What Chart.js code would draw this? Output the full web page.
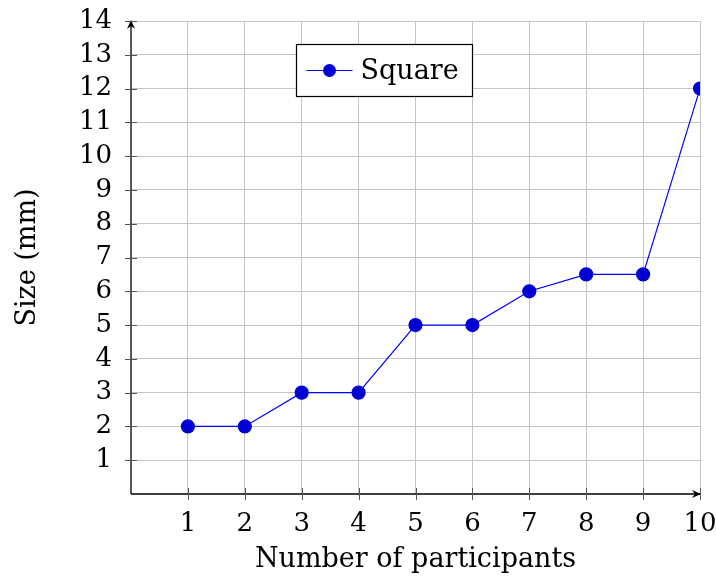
<!DOCTYPE html>
<html lang="en">
<head>
    <meta charset="UTF-8">
    <title>Size vs participants</title>
    <script src="https://cdn.jsdelivr.net/npm/chart.js"></script>
    <style>
        html, body { margin: 0; padding: 0; background: #fff; }
        #wrap { width: 716px; height: 578px; }
    </style>
</head>
<body>
    <div id="wrap"><canvas id="sizeChart" width="716" height="578"></canvas></div>

    <script>
        const participants = [1, 2, 3, 4, 5, 6, 7, 8, 9, 10];
        const sizes = [2, 2, 3, 3, 5, 5, 6, 6.5, 6.5, 12];
        const seriesLabel = 'Square';
        const xTitle = 'Number of participants';
        const yTitle = 'Size (mm)';

        const serif = '"DejaVu Serif", "Liberation Serif", serif';
        const tickSize = 26;
        const textSize = 27;

        // axis lines with arrow heads and little tick marks, like pgfplots
        const axesPlugin = {
            id: 'axes',
            afterDatasetsDraw(chart) {
                const c = chart.ctx, a = chart.chartArea;
                const xs = chart.scales.x, ys = chart.scales.y;
                c.save();
                c.strokeStyle = '#000';
                c.fillStyle = '#000';
                c.lineWidth = 1.3;
                c.beginPath();
                c.moveTo(a.left, a.bottom); c.lineTo(a.right, a.bottom);
                c.moveTo(a.left, a.bottom); c.lineTo(a.left, a.top);
                c.stroke();
                // arrows
                c.beginPath();
                c.moveTo(a.right + 1, a.bottom);
                c.lineTo(a.right - 8, a.bottom - 4);
                c.lineTo(a.right - 5, a.bottom);
                c.lineTo(a.right - 8, a.bottom + 4);
                c.closePath(); c.fill();
                c.beginPath();
                c.moveTo(a.left, a.top - 1);
                c.lineTo(a.left - 4, a.top + 8);
                c.lineTo(a.left, a.top + 5);
                c.lineTo(a.left + 4, a.top + 8);
                c.closePath(); c.fill();
                // ticks
                c.strokeStyle = '#555';
                c.lineWidth = 1;
                c.beginPath();
                xs.ticks.forEach(t => {
                    if (t.value === 0) return;
                    const px = Math.round(xs.getPixelForValue(t.value)) + 0.5;
                    c.moveTo(px, a.bottom - 6); c.lineTo(px, a.bottom + 6);
                });
                ys.ticks.forEach(t => {
                    if (t.value === 0) return;
                    const py = Math.round(ys.getPixelForValue(t.value)) + 0.5;
                    c.moveTo(a.left - 6, py); c.lineTo(a.left + 6, py);
                });
                c.stroke();
                c.restore();
            },
            afterDraw(chart) {
                // legend box
                const c = chart.ctx;
                const ds = chart.data.datasets[0];
                const bx = 296.5, by = 44.5, bw = 176, bh = 52;
                c.save();
                c.fillStyle = '#fff';
                c.strokeStyle = '#000';
                c.lineWidth = 1.2;
                c.fillRect(bx, by, bw, bh);
                c.strokeRect(bx, by, bw, bh);
                const my = by + bh / 2;
                c.strokeStyle = ds.borderColor;
                c.lineWidth = 1;
                c.beginPath(); c.moveTo(bx + 10, my); c.lineTo(bx + 56, my); c.stroke();
                c.fillStyle = ds.pointBackgroundColor;
                c.beginPath(); c.arc(bx + 33, my, 6.5, 0, Math.PI * 2); c.fill();
                c.fillStyle = '#000';
                c.font = textSize + 'px ' + serif;
                c.textBaseline = 'middle';
                c.fillText(ds.label, bx + 64, my + 1);
                c.restore();
            }
        };

        new Chart(document.getElementById('sizeChart'), {
            type: 'line',
            data: {
                datasets: [{
                    label: seriesLabel,
                    data: participants.map((p, i) => ({ x: p, y: sizes[i] })),
                    borderColor: '#0000ff',
                    borderWidth: 1.2,
                    pointBackgroundColor: '#0000d4',
                    pointBorderColor: '#0000d4',
                    pointRadius: 6.5,
                    pointHoverRadius: 6.5,
                    tension: 0,
                    fill: false
                }]
            },
            options: {
                responsive: false,
                animation: false,
                layout: { padding: { left: 0, top: 0, right: 0, bottom: 0 } },
                plugins: { legend: { display: false }, tooltip: { enabled: false } },
                scales: {
                    x: {
                        type: 'linear',
                        min: 0, max: 10,
                        afterFit(s) { s.height = 84; s.paddingLeft = 0; s.paddingRight = 16; },
                        border: { display: false },
                        grid: {
                            color: ctx => ctx.tick && ctx.tick.value === 0 ? 'rgba(0,0,0,0)' : '#c4c4c4',
                            drawTicks: false,
                            lineWidth: 1
                        },
                        ticks: {
                            stepSize: 1,
                            autoSkip: false,
                            maxRotation: 0,
                            padding: 15,
                            color: '#000',
                            font: { family: serif, size: tickSize },
                            callback: v => v === 0 ? '' : v
                        },
                        title: {
                            display: true,
                            text: xTitle,
                            color: '#000',
                            font: { family: serif, size: textSize },
                            padding: { top: 0, bottom: 2 }
                        }
                    },
                    y: {
                        min: 0, max: 14,
                        afterFit(s) { s.width = 131; s.paddingTop = 21; s.paddingBottom = 0; },
                        border: { display: false },
                        grid: {
                            color: ctx => ctx.tick && ctx.tick.value === 0 ? 'rgba(0,0,0,0)' : '#c4c4c4',
                            drawTicks: false,
                            lineWidth: 1
                        },
                        ticks: {
                            stepSize: 1,
                            autoSkip: false,
                            padding: 19,
                            color: '#000',
                            font: { family: serif, size: tickSize },
                            callback: v => v === 0 ? '' : v
                        },
                        title: {
                            display: true,
                            text: yTitle,
                            color: '#000',
                            font: { family: serif, size: textSize },
                            padding: { top: 12, bottom: 4 }
                        }
                    }
                }
            },
            plugins: [axesPlugin]
        });
    </script>
</body>
</html>
